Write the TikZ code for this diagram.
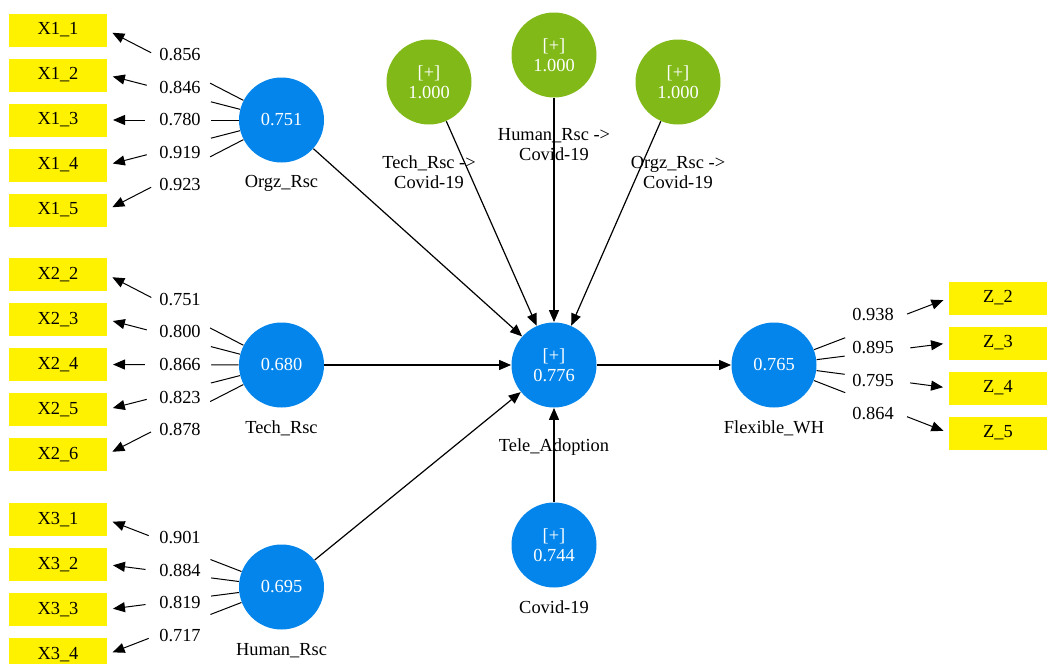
\documentclass[tikz,border=0pt]{standalone}
\usepackage{fontspec}
\setmainfont{Liberation Serif}
\usepackage{xcolor}
\usepackage{tikz}
\usetikzlibrary{positioning,arrows.meta}
\definecolor{plsblue}{RGB}{4,133,235}
\definecolor{plsgreen}{RGB}{129,186,24}
\definecolor{plsyellow}{RGB}{255,242,0}

\begin{document}
\begin{tikzpicture}[x=0.5pt, y=-0.5pt, node distance=6pt,
  font=\fontsize{9.2}{10}\selectfont,
  latent/.style={circle, fill=plsblue, text=white, minimum size=42.5pt, inner sep=0, align=center},
  moder/.style={circle, fill=plsgreen, text=white, minimum size=42.5pt, inner sep=0, align=center},
  item/.style={rectangle, fill=plsyellow, minimum width=49pt, minimum height=16.5pt, inner sep=0, outer sep=0},
  caption/.style={inner sep=0, align=center},
  val/.style={inner sep=0},
  gap/.style={sloped, fill=white, minimum width=33pt, minimum height=2pt, inner sep=0, pos=0.46},
  rel/.style={-{Triangle[length=6pt,width=5pt]}, line width=0.6pt},
  load/.style={-{Triangle[length=6pt,width=5pt]}, line width=0.5pt, shorten >=3pt}]
\useasboundingbox (0,0) rectangle (1051,664);

% indicators
\node[item] (x11) at (58,30) {X1\_1};
\node[item, below=of x11] (x12) {X1\_2};
\node[item, below=of x12] (x13) {X1\_3};
\node[item, below=of x13] (x14) {X1\_4};
\node[item, below=of x14] (x15) {X1\_5};
\node[item] (x22) at (58,274.5) {X2\_2};
\node[item, below=of x22] (x23) {X2\_3};
\node[item, below=of x23] (x24) {X2\_4};
\node[item, below=of x24] (x25) {X2\_5};
\node[item, below=of x25] (x26) {X2\_6};
\node[item] (x31) at (58,519.5) {X3\_1};
\node[item, below=of x31] (x32) {X3\_2};
\node[item, below=of x32] (x33) {X3\_3};
\node[item, below=of x33] (x34) {X3\_4};
\node[item] (z2) at (998,298) {Z\_2};
\node[item, below=of z2] (z3) {Z\_3};
\node[item, below=of z3] (z4) {Z\_4};
\node[item, below=of z4] (z5) {Z\_5};

% constructs
\node[latent] (orgz) at (281.5,120) {0.751};
\node[latent] (tech) at (281.5,365) {0.680};
\node[latent] (human) at (281.5,587) {0.695};
\node[latent] (tele) at (554,365) {[+]\\0.776};
\node[latent] (covid) at (554,545) {[+]\\0.744};
\node[latent] (flex) at (774,365) {0.765};
\node[moder] (techcov) at (429,82) {[+]\\1.000};
\node[moder] (humcov) at (554,55) {[+]\\1.000};
\node[moder] (orgzcov) at (678,82) {[+]\\1.000};

% captions
\node[caption] (orgzcap) at (281.5,183) {Orgz\_Rsc};
\node[caption] (techcap) at (281.5,428) {Tech\_Rsc};
\node[caption] (humancap) at (281.5,651) {Human\_Rsc};
\node[caption] (telecap) at (554,447) {Tele\_Adoption};
\node[caption] (covidcap) at (554,607) {Covid-19};
\node[caption] (flexcap) at (774,428) {Flexible\_WH};
\node[caption] (techcovcap) at (429,172) {Tech\_Rsc ->\\Covid-19};
\node[caption] (humcovcap) at (554,145) {Human\_Rsc ->\\Covid-19};
\node[caption] (orgzcovcap) at (678,172) {Orgz\_Rsc ->\\Covid-19};

% inner model
\draw[rel] (orgz) -- (tele);
\draw[rel] (tech) -- (tele);
\draw[rel] (human) -- (tele);
\draw[rel] (techcov) -- (tele);
\draw[rel] (humcov) -- (tele);
\draw[rel] (orgzcov) -- (tele);
\draw[rel] (covid) -- (tele);
\draw[rel] (tele) -- (flex);

% outer loadings
\draw[load] (orgz) -- node[gap] (g11) {} (x11.east);
\draw[load] (orgz) -- node[gap] (g12) {} (x12.east);
\draw[load] (orgz) -- node[gap] (g13) {} (x13.east);
\draw[load] (orgz) -- node[gap] (g14) {} (x14.east);
\draw[load] (orgz) -- node[gap] (g15) {} (x15.east);
\draw[load] (tech) -- node[gap] (g22) {} (x22.east);
\draw[load] (tech) -- node[gap] (g23) {} (x23.east);
\draw[load] (tech) -- node[gap] (g24) {} (x24.east);
\draw[load] (tech) -- node[gap] (g25) {} (x25.east);
\draw[load] (tech) -- node[gap] (g26) {} (x26.east);
\draw[load] (human) -- node[gap] (g31) {} (x31.east);
\draw[load] (human) -- node[gap] (g32) {} (x32.east);
\draw[load] (human) -- node[gap] (g33) {} (x33.east);
\draw[load] (human) -- node[gap] (g34) {} (x34.east);
\draw[load] (flex) -- node[gap] (gz2) {} (z2.west);
\draw[load] (flex) -- node[gap] (gz3) {} (z3.west);
\draw[load] (flex) -- node[gap] (gz4) {} (z4.west);
\draw[load] (flex) -- node[gap] (gz5) {} (z5.west);

\node[val] (l11) at (180,55) {0.856};
\node[val] (l12) at (180,88) {0.846};
\node[val] (l13) at (180,120) {0.780};
\node[val] (l14) at (180,153) {0.919};
\node[val] (l15) at (180,185) {0.923};
\node[val] (l22) at (180,300) {0.751};
\node[val] (l23) at (180,332) {0.800};
\node[val] (l24) at (180,365) {0.866};
\node[val] (l25) at (180,398) {0.823};
\node[val] (l26) at (180,430) {0.878};
\node[val] (l31) at (180,538) {0.901};
\node[val] (l32) at (180,571) {0.884};
\node[val] (l33) at (180,603) {0.819};
\node[val] (l34) at (180,636) {0.717};
\node[val] (lz2) at (873,315) {0.938};
\node[val] (lz3) at (873,348) {0.895};
\node[val] (lz4) at (873,381) {0.795};
\node[val] (lz5) at (873,414) {0.864};
\end{tikzpicture}
\end{document}
